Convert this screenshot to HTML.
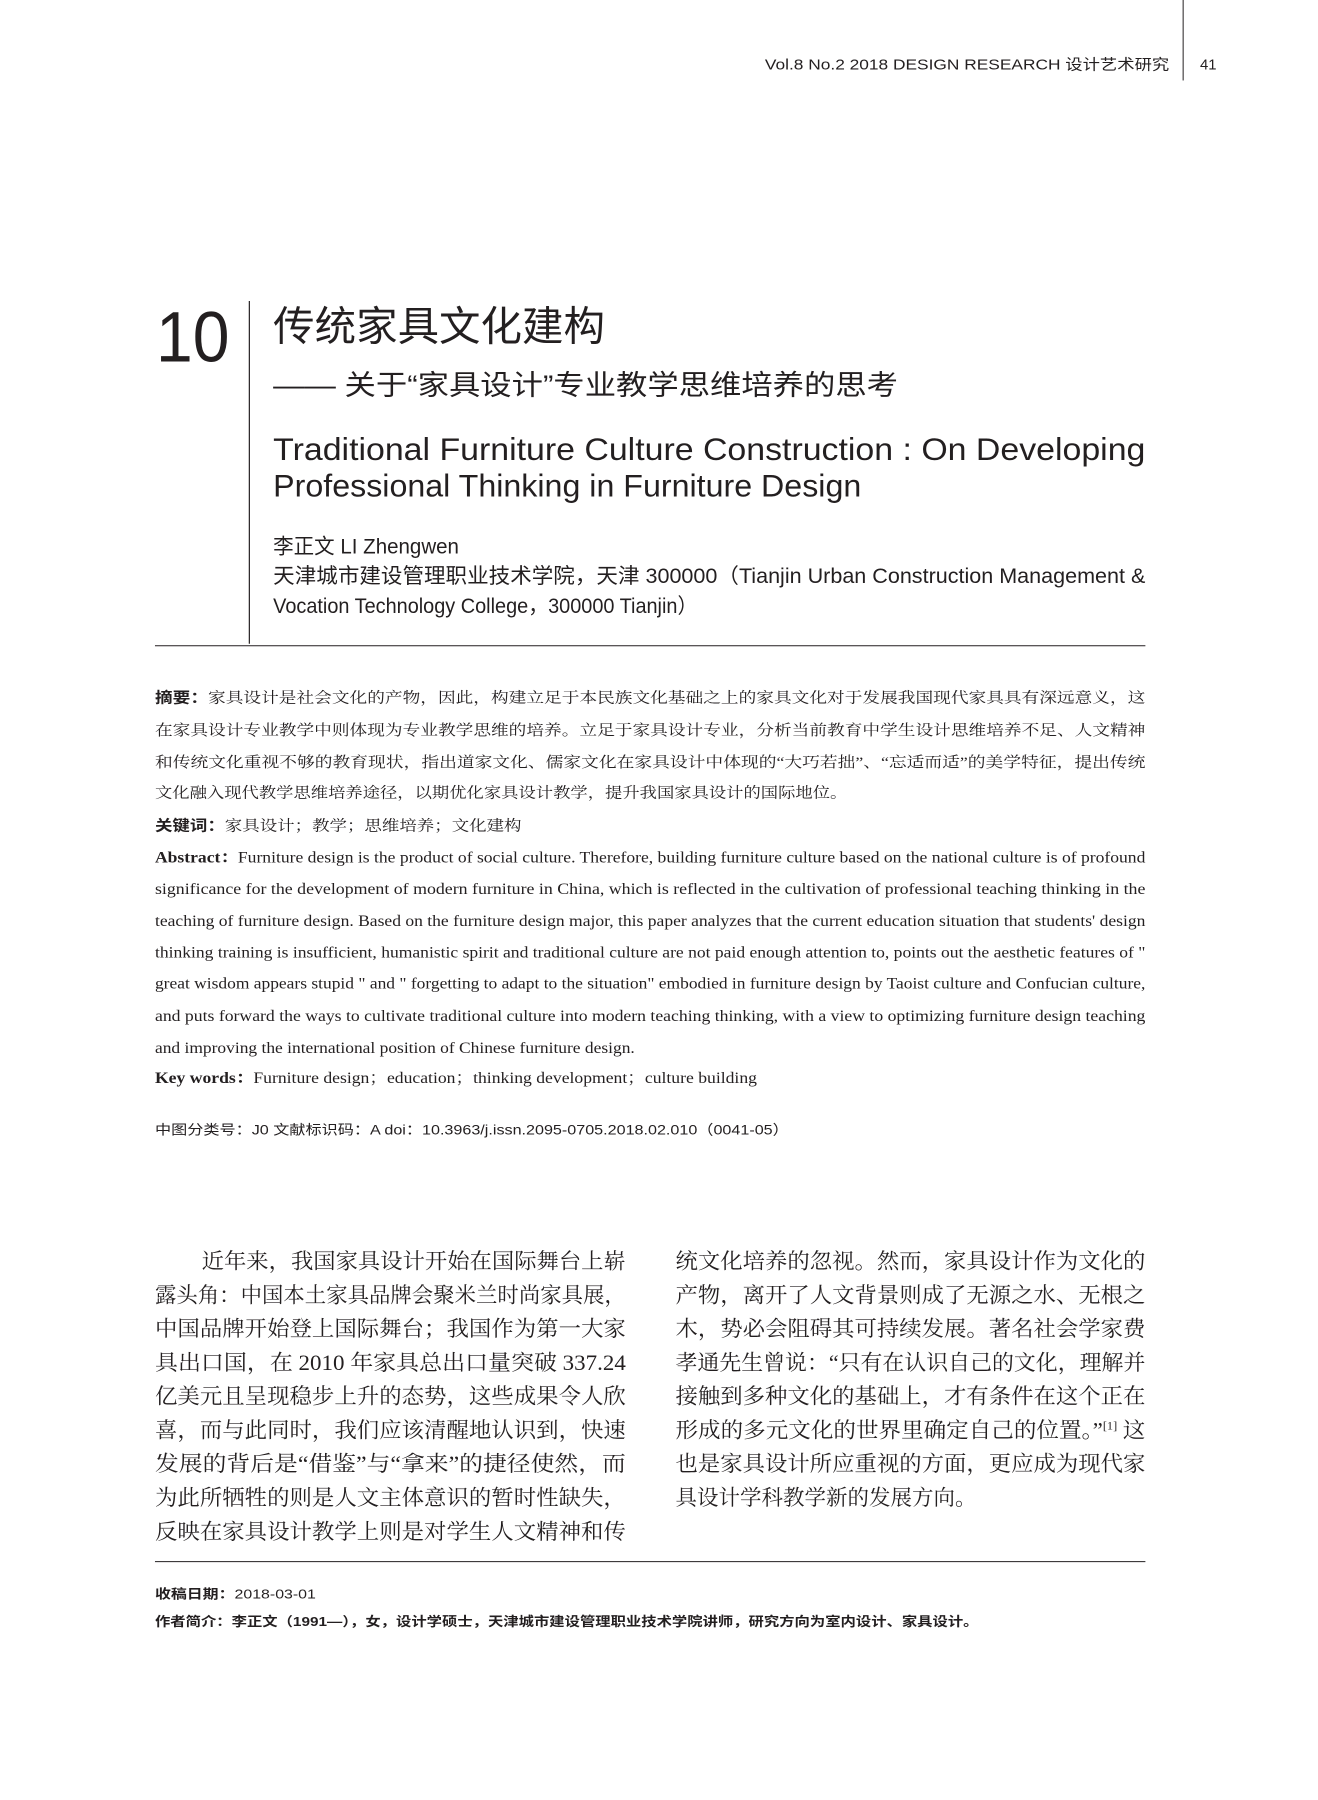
<!DOCTYPE html>
<html><head><meta charset="utf-8"><style>
html,body{margin:0;padding:0;background:#fff}
svg{display:block}
.s{font-family:"Liberation Sans","Noto Sans CJK SC",sans-serif;fill:#231f20}
.r{font-family:"Liberation Serif","Noto Serif CJK SC",serif;fill:#231f20}
</style></head><body>
<svg width="1318" height="1800" viewBox="0 0 1318 1800" xmlns="http://www.w3.org/2000/svg" xml:space="preserve">
<rect width="1318" height="1800" fill="#fff"/>
<g transform="scale(0.9934)">
<!-- header -->
<line x1="1191" y1="0" x2="1191" y2="81" stroke="#231f20" stroke-width="1"/>
<text class="s" x="770" y="70" font-size="15" textLength="407" lengthAdjust="spacingAndGlyphs">Vol.8 No.2 2018   DESIGN RESEARCH  设计艺术研究</text>
<text class="s" x="1208" y="70" font-size="15">41</text>

<!-- title block -->
<text class="s" x="157" y="364" font-size="72" textLength="74" lengthAdjust="spacingAndGlyphs">10</text>
<line x1="251" y1="303" x2="251" y2="648" stroke="#231f20" stroke-width="1.2"/>
<text class="s" x="275" y="343" font-size="41" textLength="334" lengthAdjust="spacingAndGlyphs">传统家具文化建构</text>
<text class="s" x="275" y="397" font-size="28" textLength="629" lengthAdjust="spacingAndGlyphs">—— 关于“家具设计”专业教学思维培养的思考</text>
<text class="s" x="275" y="463" font-size="32" textLength="878" lengthAdjust="spacingAndGlyphs">Traditional Furniture Culture Construction : On Developing</text>
<text class="s" x="275" y="500" font-size="32" textLength="592" lengthAdjust="spacingAndGlyphs">Professional Thinking in Furniture Design</text>
<text class="s" x="275" y="557" font-size="21" textLength="187" lengthAdjust="spacingAndGlyphs">李正文 LI Zhengwen</text>
<text class="s" x="275" y="587" font-size="21" textLength="878" lengthAdjust="spacingAndGlyphs">天津城市建设管理职业技术学院，天津 300000（Tianjin Urban Construction Management &amp;</text>
<text class="s" x="275" y="617" font-size="21" textLength="427" lengthAdjust="spacingAndGlyphs">Vocation Technology College，300000 Tianjin）</text>
<line x1="156" y1="650" x2="1153" y2="650" stroke="#231f20" stroke-width="1"/>

<!-- CN abstract -->
<g class="r" font-size="15">
<text x="156" y="707" textLength="997" lengthAdjust="spacingAndGlyphs"><tspan font-weight="bold" class="s">摘要：</tspan>家具设计是社会文化的产物，因此，构建立足于本民族文化基础之上的家具文化对于发展我国现代家具具有深远意义，这</text>
<text x="156" y="740" textLength="997" lengthAdjust="spacingAndGlyphs">在家具设计专业教学中则体现为专业教学思维的培养。立足于家具设计专业，分析当前教育中学生设计思维培养不足、人文精神</text>
<text x="156" y="772" textLength="997" lengthAdjust="spacingAndGlyphs">和传统文化重视不够的教育现状，指出道家文化、儒家文化在家具设计中体现的“大巧若拙”、“忘适而适”的美学特征，提出传统</text>
<text x="156" y="803" textLength="697" lengthAdjust="spacingAndGlyphs">文化融入现代教学思维培养途径，以期优化家具设计教学，提升我国家具设计的国际地位。</text>
<text x="156" y="836" textLength="369" lengthAdjust="spacingAndGlyphs"><tspan font-weight="bold" class="s">关键词：</tspan>家具设计；教学；思维培养；文化建构</text>
</g>

<!-- EN abstract -->
<g class="r" font-size="16">
<text x="156" y="868" textLength="997" lengthAdjust="spacingAndGlyphs"><tspan font-weight="bold">Abstract：</tspan>Furniture design is the product of social culture. Therefore, building furniture culture based on the national culture is of profound</text>
<text x="156" y="900" textLength="997" lengthAdjust="spacingAndGlyphs">significance for the development of modern furniture in China, which is reflected in the cultivation of professional teaching thinking in the</text>
<text x="156" y="932" textLength="997" lengthAdjust="spacingAndGlyphs">teaching of furniture design. Based on the furniture design major, this paper analyzes that the current education situation that students' design</text>
<text x="156" y="964" textLength="997" lengthAdjust="spacingAndGlyphs">thinking training is insufficient, humanistic spirit and traditional culture are not paid enough attention to, points out the aesthetic features of "</text>
<text x="156" y="995" textLength="997" lengthAdjust="spacingAndGlyphs">great wisdom appears stupid " and " forgetting to adapt to the situation" embodied in furniture design by Taoist culture and Confucian culture,</text>
<text x="156" y="1028" textLength="997" lengthAdjust="spacingAndGlyphs">and puts forward the ways to cultivate traditional culture into modern teaching thinking, with a view to optimizing furniture design teaching</text>
<text x="156" y="1060" textLength="483" lengthAdjust="spacingAndGlyphs">and improving the international position of Chinese furniture design.</text>
<text x="156" y="1090" textLength="606" lengthAdjust="spacingAndGlyphs"><tspan font-weight="bold">Key  words：</tspan>Furniture design；education；thinking development；culture building</text>
</g>
<text class="s" x="156" y="1142" font-size="14" textLength="638" lengthAdjust="spacingAndGlyphs">中图分类号：J0     文献标识码：A    doi：10.3963/j.issn.2095-0705.2018.02.010（0041-05）</text>

<!-- body -->
<g class="r" font-size="22">
<text x="203" y="1277" textLength="427" lengthAdjust="spacingAndGlyphs">近年来，我国家具设计开始在国际舞台上崭</text>
<text x="156" y="1311" textLength="474" lengthAdjust="spacingAndGlyphs">露头角：中国本土家具品牌会聚米兰时尚家具展，</text>
<text x="156" y="1345" textLength="474" lengthAdjust="spacingAndGlyphs">中国品牌开始登上国际舞台；我国作为第一大家</text>
<text x="156" y="1379" textLength="474" lengthAdjust="spacingAndGlyphs">具出口国，在 2010 年家具总出口量突破 337.24</text>
<text x="156" y="1413" textLength="474" lengthAdjust="spacingAndGlyphs">亿美元且呈现稳步上升的态势，这些成果令人欣</text>
<text x="156" y="1447" textLength="474" lengthAdjust="spacingAndGlyphs">喜，而与此同时，我们应该清醒地认识到，快速</text>
<text x="156" y="1481" textLength="474" lengthAdjust="spacingAndGlyphs">发展的背后是“借鉴”与“拿来”的捷径使然，而</text>
<text x="156" y="1515" textLength="474" lengthAdjust="spacingAndGlyphs">为此所牺牲的则是人文主体意识的暂时性缺失，</text>
<text x="156" y="1549" textLength="474" lengthAdjust="spacingAndGlyphs">反映在家具设计教学上则是对学生人文精神和传</text>

<text x="680" y="1277" textLength="473" lengthAdjust="spacingAndGlyphs">统文化培养的忽视。然而，家具设计作为文化的</text>
<text x="680" y="1311" textLength="473" lengthAdjust="spacingAndGlyphs">产物，离开了人文背景则成了无源之水、无根之</text>
<text x="680" y="1345" textLength="473" lengthAdjust="spacingAndGlyphs">木，势必会阻碍其可持续发展。著名社会学家费</text>
<text x="680" y="1379" textLength="473" lengthAdjust="spacingAndGlyphs">孝通先生曾说：“只有在认识自己的文化，理解并</text>
<text x="680" y="1413" textLength="473" lengthAdjust="spacingAndGlyphs">接触到多种文化的基础上，才有条件在这个正在</text>
<text x="680" y="1447" textLength="473" lengthAdjust="spacingAndGlyphs">形成的多元文化的世界里确定自己的位置。”<tspan font-size="12" dy="-8">[1]</tspan><tspan dy="8"> 这</tspan></text>
<text x="680" y="1481" textLength="473" lengthAdjust="spacingAndGlyphs">也是家具设计所应重视的方面，更应成为现代家</text>
<text x="680" y="1515" textLength="303" lengthAdjust="spacingAndGlyphs">具设计学科教学新的发展方向。</text>
</g>

<line x1="156" y1="1572" x2="1153" y2="1572" stroke="#231f20" stroke-width="1"/>
<text class="s" x="156" y="1609" font-size="13" textLength="162" lengthAdjust="spacingAndGlyphs"><tspan font-weight="bold">收稿日期：</tspan>2018-03-01</text>
<text class="s" x="156" y="1637" font-size="13" font-weight="bold" textLength="829" lengthAdjust="spacingAndGlyphs">作者简介：李正文（1991—），女，设计学硕士，天津城市建设管理职业技术学院讲师，研究方向为室内设计、家具设计。</text>
</g>
</svg>
</body></html>
